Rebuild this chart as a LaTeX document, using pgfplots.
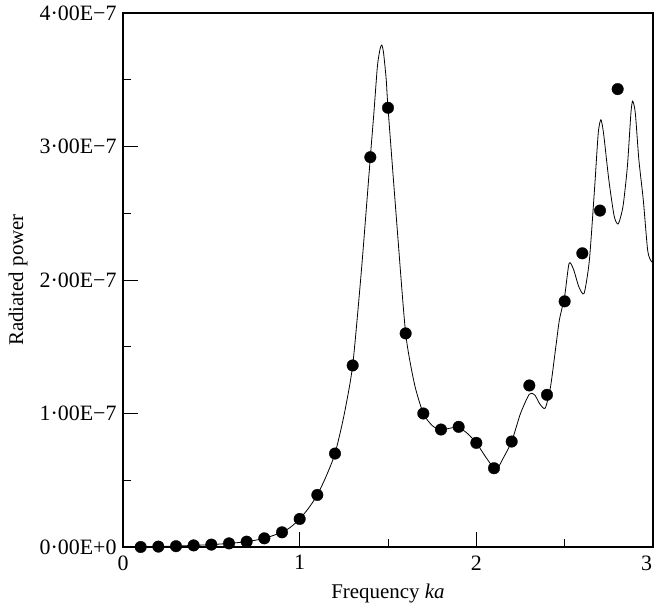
\documentclass[border=0pt]{standalone}
\usepackage{pgfplots}
\pgfplotsset{compat=1.18}
\usepackage{fontspec}
\setmainfont{Liberation Serif}
\pgfplotstableread{
x y
0.1 0.000
0.2 0.003
0.3 0.007
0.4 0.012
0.5 0.018
0.6 0.027
0.7 0.040
0.8 0.065
0.9 0.110
0.95 0.150
1.0 0.210
1.05 0.290
1.1 0.390
1.15 0.530
1.2 0.700
1.25 0.980
1.3 1.360
1.35 2.080
1.4 2.920
1.42 3.250
1.44 3.600
1.455 3.730
1.465 3.760
1.475 3.700
1.49 3.500
1.5 3.290
1.55 2.420
1.6 1.600
1.65 1.220
1.7 1.000
1.75 0.910
1.8 0.875
1.85 0.890
1.9 0.895
1.95 0.850
2.0 0.780
2.05 0.680
2.1 0.590
2.125 0.600
2.15 0.660
2.2 0.790
2.25 1.000
2.3 1.145
2.33 1.140
2.36 1.070
2.39 1.040
2.42 1.200
2.45 1.500
2.47 1.700
2.5 1.880
2.525 2.125
2.55 2.080
2.58 1.950
2.61 1.900
2.64 2.150
2.67 2.700
2.69 3.100
2.705 3.200
2.72 3.100
2.75 2.750
2.78 2.480
2.803 2.420
2.83 2.550
2.855 2.850
2.875 3.250
2.885 3.340
2.9 3.250
2.92 2.900
2.945 2.600
2.97 2.220
2.99 2.140
3.0 2.130
}\curvedata
\pgfplotstableread{
x y
0.1 0.000
0.2 0.003
0.3 0.006
0.4 0.012
0.5 0.018
0.6 0.027
0.7 0.040
0.8 0.065
0.9 0.110
1.0 0.210
1.1 0.390
1.2 0.700
1.3 1.360
1.4 2.920
1.5 3.290
1.6 1.600
1.7 1.000
1.8 0.880
1.9 0.900
2.0 0.780
2.1 0.590
2.2 0.790
2.3 1.210
2.4 1.140
2.5 1.840
2.6 2.200
2.7 2.520
2.8 3.430
}\dotdata
\begin{document}
\begin{tikzpicture}
\begin{axis}[
  at={(0,0)}, anchor=origin,
  scale only axis,
  width=530bp, height=534bp,
  xmin=0, xmax=3, ymin=0, ymax=4,
  axis line style={line width=1.8bp},
  axis x line*=box, axis y line*=box,
  xtick={0,1,2,3}, xticklabels={0,1,2,{\hbox to 0pt{\hss 3\kern1bp}}},
  minor xtick={0.5,1.5,2.5},
  ytick={0,1,2,3,4},
  yticklabels={0·00E+0,1·00E−7,2·00E−7,3·00E−7,4·00E−7},
  minor ytick={0.5,1.5,2.5,3.5},
  tick align=inside,
  xtick pos=bottom, ytick pos=left,
  major tick length=15bp, minor tick length=8bp,
  tick style={black, line width=0.9bp},
  minor tick style={black, line width=0.7bp},
  ticklabel style={font=\fontsize{22}{25}\selectfont},
  xticklabel style={yshift=-5bp},
  yticklabel style={xshift=-3bp},
  /pgf/number format/assume math mode=true,
  xlabel={Frequency \textit{ka}},
  ylabel={Radiated power},
  label style={font=\fontsize{21}{24}\selectfont},
  xlabel style={at={(axis description cs:0.5,-0.097)}, anchor=base},
  ylabel style={at={(axis description cs:-0.198,0.5)}, anchor=center, rotate=0},
  clip=false,
]
\addplot[black, line width=0.8bp, smooth, tension=0.4, no marks] table[x=x,y=y] {\curvedata};
\addplot[only marks, mark=*, mark size=5.8bp, mark options={fill=black, draw=black, line width=0.3bp}] table[x=x,y=y] {\dotdata};
\end{axis}
\pgfresetboundingbox
\useasboundingbox (-123bp,-62bp) rectangle (533bp,547bp);
\end{tikzpicture}
\end{document}
